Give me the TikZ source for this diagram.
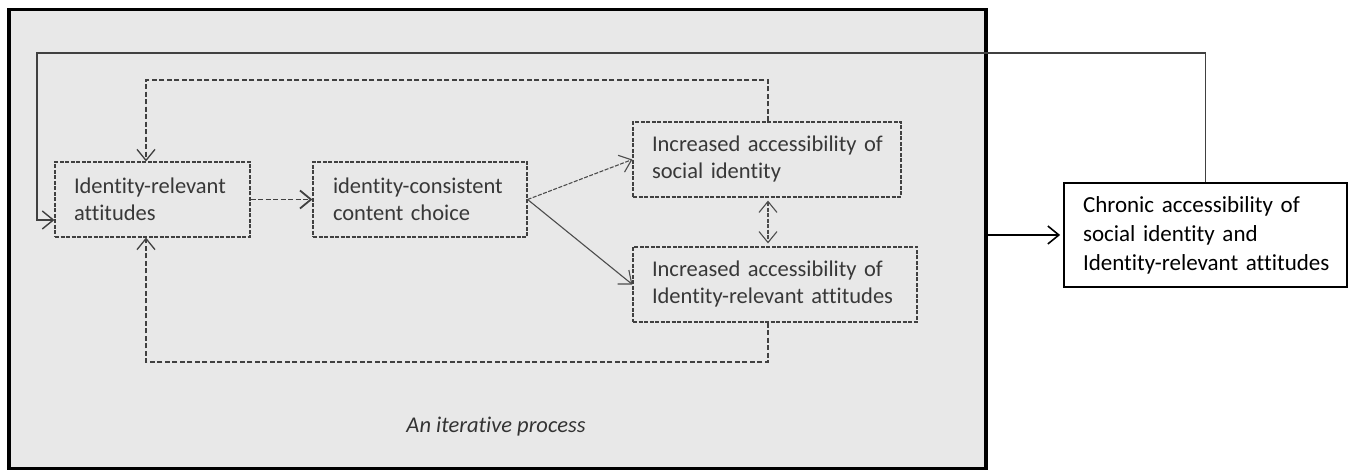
\documentclass[tikz,border=0pt]{standalone}
\usepackage{fontspec}
\setmainfont{Carlito}[RawFeature=-liga]
\usetikzlibrary{arrows.meta}
\begin{document}
\begin{tikzpicture}[x=1pt,y=-1pt,
  tip/.style={-{Straight Barb[length=11pt,width=18pt]}},
  inbox/.style={draw=black!75, line width=1.2pt, dash pattern=on 4pt off 1.5pt,
    text=black!78, align=left, minimum height=75pt, inner ysep=0pt,
    font=\fontsize{22.5}{27}\selectfont},
  loopline/.style={draw=black!75, line width=1.3pt, dash pattern=on 5pt off 2.5pt},
  thinline/.style={draw=black!70, line width=1.1pt}
]
\useasboundingbox (0,0) rectangle (1355,470);
\node[draw=black, line width=3.5pt, fill=black!9, minimum width=977pt, minimum height=459pt,
  inner sep=0pt, anchor=north west] (frame) at (7,8) {};
\node[inbox, text width=157pt, inner xsep=19pt] (b1) at (152.5,199.5)
  {\mbox{Identity-relevant}\\\mbox{attitudes}};
\node[inbox, text width=174pt, inner xsep=20pt] (b2) at (420,199.5)
  {\mbox{identity-consistent}\\\mbox{content choice}};
\node[inbox, text width=230pt, inner xsep=19pt] (b3) at (767,159.5)
  {\mbox{Increased accessibility of}\\\mbox{social identity}};
\node[inbox, text width=246pt, inner xsep=19pt] (b4) at (775,284.5)
  {\mbox{Increased accessibility of}\\\mbox{Identity-relevant attitudes}};
\node[draw=black, line width=1.8pt, fill=white, text width=245pt, inner xsep=19pt,
  align=left, minimum height=104pt, font=\fontsize{23}{29}\selectfont] (ch) at (1205.5,235)
  {\mbox{Chronic accessibility of}\\\mbox{social identity and}\\\mbox{Identity-relevant attitudes}};
\node[text=black!80, font=\fontsize{22.5}{27}\selectfont\itshape] (it) at (496,427) {An iterative process};
% coordinates
\coordinate (lx) at (146,0);
\coordinate (rx) at (768,0);
\coordinate (ty) at (0,80);
\coordinate (by) at (0,362);
\coordinate (oy) at (0,53);
\coordinate (ox) at (37,0);
\coordinate (ay) at (0,220);
% arrows
\draw[loopline, line width=1.8pt, tip] (b1.east) -- (b2.west);
\draw[thinline, dash pattern=on 4pt off 1.5pt, tip] (b2.east) -- (b3.west);
\draw[thinline, tip] (b2.east) -- (b4.west);
\draw[thinline, dash pattern=on 4pt off 1.5pt, {Straight Barb[length=11pt,width=18pt]}-{Straight Barb[length=11pt,width=18pt]},
  shorten <=3pt, shorten >=3pt] (rx |- b3.south) -- (rx |- b4.north);
\draw[loopline, tip] (rx |- b3.north) -- (rx |- ty) -- (lx |- ty) -- (lx |- b1.north);
\draw[loopline, tip] (rx |- b4.south) -- (rx |- by) -- (lx |- by) -- (lx |- b1.south);
\draw[draw=black!75, line width=1.4pt, tip] (ch.north) -- (ch.north |- oy) -- (ox |- oy) -- (ox |- ay) -- (b1.west |- ay);
\draw[draw=black, line width=1.6pt, shorten >=3pt, tip] (frame.east |- ch.west) -- (ch.west);
\end{tikzpicture}
\end{document}
